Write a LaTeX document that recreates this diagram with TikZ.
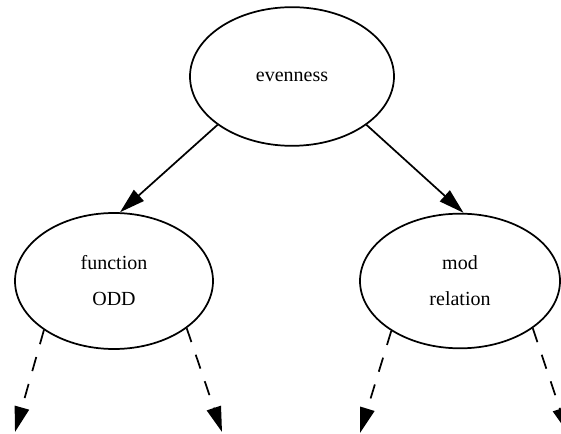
\documentclass[tikz,border=0pt]{standalone}
\usepackage{fontspec}
\setmainfont{Liberation Serif}
\usetikzlibrary{shapes.geometric,arrows.meta}
\begin{document}
\begin{tikzpicture}[x=0.75pt,y=-0.75pt,
  concept/.style={ellipse,draw,line width=1.3pt,inner sep=0pt,
    align=center,font=\fontsize{15}{27}\selectfont},
  link/.style={line width=1.3pt,-{Triangle[length=19pt,width=11pt]}},
  branch/.style={link,dash pattern=on 11pt off 10pt}]
\useasboundingbox (0,0) rectangle (561,434);

% concept nodes
\node[concept,minimum width=153pt,minimum height=104pt] (even) at (292,76.5) {evenness};
\node[concept,minimum width=148.5pt,minimum height=102pt] (func) at (114,281) {function\\ODD};
\node[concept,minimum width=150pt,minimum height=101pt] (mod) at (460,281) {mod\\relation};

% open ends of the dashed branches
\coordinate (f1) at (15,432);
\coordinate (f2) at (222,432);
\coordinate (m1) at (360,433);
\coordinate (m2) at (568,433);

% refinement links
\draw[link] (even.213) -- (func.85);
\draw[link] (even.327) -- (mod.87.5);

% further branches
\draw[branch] (func.215) -- (f1);
\draw[branch] (func.327.7) -- (f2);
\draw[branch] (mod.216) -- (m1);
\draw[branch] (mod.327.5) -- (m2);
\end{tikzpicture}
\end{document}
